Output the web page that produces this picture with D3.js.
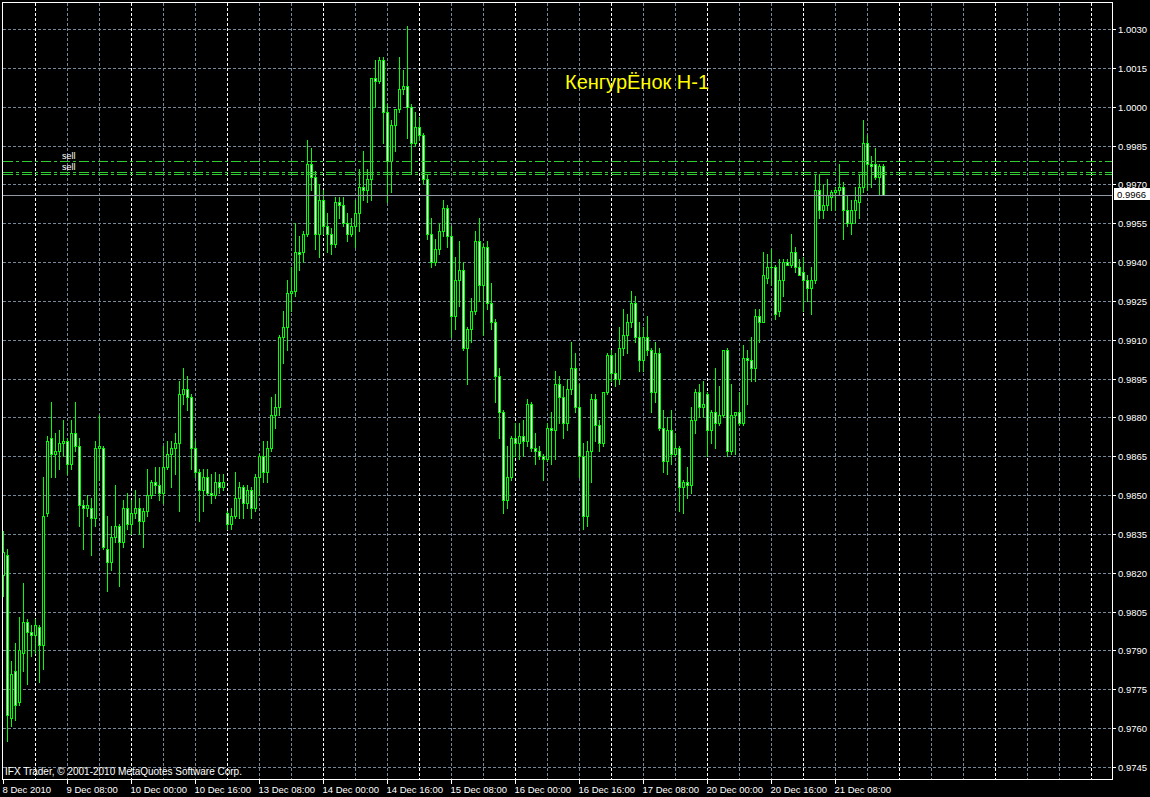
<!DOCTYPE html>
<html><head><meta charset="utf-8">
<script src="https://cdn.jsdelivr.net/npm/d3@7"></script>
<style>html,body{margin:0;padding:0;background:#000;overflow:hidden}</style>
</head><body><svg id="c" width="1150" height="797"></svg>
<script>
const opens=[0.9819,0.9827,0.9764,0.9782,0.9770,0.9789,0.9801,0.9797,0.9796,0.9799,
0.9792,0.9843,0.9872,0.9866,0.9867,0.9870,0.9871,0.9862,0.9874,0.9869,
0.9846,0.9845,0.9845,0.9841,0.9868,0.9868,0.9829,0.9824,0.9834,0.9838,
0.9832,0.9845,0.9839,0.9843,0.9845,0.9840,0.9844,0.9850,0.9855,0.9854,
0.9851,0.9861,0.9866,0.9868,0.9870,0.9889,0.9891,0.9888,0.9868,0.9859,
0.9852,0.9857,0.9851,0.9850,0.9855,0.9853,0.9843,0.9839,0.9842,0.9849,
0.9853,0.9847,0.9852,0.9845,0.9857,0.9865,0.9859,0.9868,0.9881,0.9884,
0.9911,0.9915,0.9928,0.9929,0.9944,0.9944,0.9951,0.9978,0.9973,0.9951,
0.9964,0.9954,0.9951,0.9947,0.9963,0.9962,0.9955,0.9951,0.9954,0.9959,
0.9969,0.9968,0.9972,1.0011,1.0010,1.0018,0.9998,0.9979,0.9993,0.9999,
1.0007,1.0008,1.0000,0.9986,0.9992,0.9989,0.9972,0.9951,0.9940,0.9945,
0.9952,0.9961,0.9950,0.9919,0.9933,0.9937,0.9907,0.9914,0.9921,0.9948,
0.9931,0.9946,0.9924,0.9917,0.9896,0.9882,0.9848,0.9857,0.9872,0.9870,
0.9873,0.9871,0.9885,0.9868,0.9867,0.9865,0.9864,0.9876,0.9875,0.9893,
0.9888,0.9878,0.9891,0.9899,0.9884,0.9865,0.9842,0.9867,0.9887,0.9877,
0.9870,0.9890,0.9904,0.9897,0.9895,0.9907,0.9912,0.9917,0.9924,0.9911,
0.9902,0.9911,0.9906,0.9890,0.9905,0.9876,0.9863,0.9875,0.9866,0.9868,
0.9853,0.9855,0.9854,0.9879,0.9890,0.9884,0.9889,0.9875,0.9882,0.9878,
0.9881,0.9906,0.9867,0.9881,0.9882,0.9878,0.9903,0.9902,0.9899,0.9919,
0.9917,0.9934,0.9938,0.9938,0.9921,0.9933,0.9940,0.9939,0.9944,0.9938,
0.9936,0.9933,0.9930,0.9933,0.9968,0.9960,0.9962,0.9965,0.9967,0.9968,
0.9969,0.9960,0.9955,0.9960,0.9963,0.9969,0.9986,0.9978,0.9978,0.9973,
0.9977];
const highs=[0.9836,0.9829,0.9786,0.9793,0.9803,0.9816,0.9802,0.9800,0.9802,0.9800,
0.9857,0.9873,0.9886,0.9874,0.9875,0.9879,0.9872,0.9879,0.9886,0.9872,
0.9848,0.9850,0.9849,0.9871,0.9881,0.9869,0.9842,0.9838,0.9854,0.9839,
0.9848,0.9851,0.9848,0.9852,0.9849,0.9845,0.9860,0.9856,0.9861,0.9861,
0.9869,0.9871,0.9871,0.9874,0.9894,0.9899,0.9896,0.9889,0.9871,0.9860,
0.9860,0.9860,0.9858,0.9859,0.9858,0.9858,0.9844,0.9845,0.9859,0.9855,
0.9854,0.9854,0.9853,0.9858,0.9866,0.9871,0.9871,0.9888,0.9889,0.9912,
0.9921,0.9933,0.9938,0.9955,0.9950,0.9952,0.9987,0.9984,0.9975,0.9970,
0.9968,0.9959,0.9953,0.9965,0.9965,0.9965,0.9959,0.9957,0.9964,0.9976,
0.9983,0.9976,1.0011,1.0018,1.0019,1.0019,1.0001,0.9995,0.9999,1.0019,
1.0014,1.0031,1.0001,0.9998,0.9996,0.9990,0.9974,0.9957,0.9949,0.9955,
0.9964,0.9962,0.9954,0.9942,0.9948,0.9940,0.9915,0.9926,0.9952,0.9957,
0.9947,0.9948,0.9932,0.9918,0.9899,0.9883,0.9869,0.9873,0.9878,0.9878,
0.9879,0.9887,0.9886,0.9874,0.9869,0.9866,0.9878,0.9882,0.9898,0.9896,
0.9892,0.9895,0.9909,0.9905,0.9893,0.9870,0.9871,0.9889,0.9889,0.9879,
0.9890,0.9905,0.9906,0.9905,0.9915,0.9922,0.9920,0.9929,0.9927,0.9917,
0.9915,0.9919,0.9907,0.9909,0.9907,0.9883,0.9880,0.9883,0.9874,0.9869,
0.9856,0.9861,0.9884,0.9891,0.9893,0.9894,0.9890,0.9883,0.9899,0.9892,
0.9906,0.9907,0.9893,0.9882,0.9890,0.9908,0.9906,0.9911,0.9922,0.9922,
0.9944,0.9943,0.9945,0.9939,0.9941,0.9941,0.9941,0.9951,0.9946,0.9941,
0.9942,0.9935,0.9938,0.9974,0.9974,0.9970,0.9972,0.9968,0.9969,0.9978,
0.9971,0.9966,0.9964,0.9969,0.9974,0.9995,0.9989,0.9981,0.9984,0.9978,
0.9978];
const lows=[0.9811,0.9755,0.9761,0.9763,0.9769,0.9782,0.9777,0.9788,0.9789,0.9778,
0.9783,0.9842,0.9857,0.9857,0.9860,0.9865,0.9858,0.9860,0.9867,0.9838,
0.9829,0.9842,0.9827,0.9838,0.9856,0.9829,0.9813,0.9821,0.9832,0.9815,
0.9830,0.9837,0.9835,0.9841,0.9835,0.9830,0.9842,0.9849,0.9851,0.9848,
0.9847,0.9860,0.9853,0.9858,0.9844,0.9885,0.9883,0.9860,0.9857,0.9840,
0.9844,0.9850,0.9847,0.9849,0.9851,0.9852,0.9837,0.9837,0.9841,0.9841,
0.9841,0.9845,0.9841,0.9844,0.9850,0.9855,0.9855,0.9867,0.9876,0.9881,
0.9901,0.9906,0.9921,0.9927,0.9937,0.9940,0.9950,0.9968,0.9945,0.9942,
0.9951,0.9944,0.9943,0.9946,0.9957,0.9954,0.9948,0.9950,0.9946,0.9952,
0.9964,0.9963,0.9964,1.0000,1.0009,0.9986,0.9963,0.9967,0.9983,0.9998,
1.0005,0.9988,0.9974,0.9985,0.9987,0.9970,0.9949,0.9938,0.9939,0.9943,
0.9950,0.9946,0.9911,0.9914,0.9923,0.9906,0.9893,0.9909,0.9920,0.9925,
0.9912,0.9922,0.9914,0.9886,0.9872,0.9843,0.9845,0.9856,0.9865,0.9864,
0.9865,0.9869,0.9867,0.9862,0.9864,0.9856,0.9863,0.9862,0.9864,0.9878,
0.9872,0.9875,0.9889,0.9882,0.9857,0.9837,0.9838,0.9855,0.9871,0.9867,
0.9869,0.9889,0.9894,0.9892,0.9893,0.9904,0.9905,0.9915,0.9909,0.9898,
0.9898,0.9904,0.9882,0.9886,0.9875,0.9859,0.9858,0.9862,0.9865,0.9844,
0.9843,0.9849,0.9851,0.9874,0.9880,0.9880,0.9865,0.9870,0.9868,0.9877,
0.9880,0.9865,0.9866,0.9866,0.9877,0.9877,0.9885,0.9894,0.9894,0.9909,
0.9917,0.9932,0.9931,0.9918,0.9919,0.9927,0.9939,0.9938,0.9936,0.9935,
0.9921,0.9925,0.9920,0.9932,0.9957,0.9957,0.9960,0.9960,0.9960,0.9966,
0.9949,0.9954,0.9951,0.9955,0.9957,0.9967,0.9968,0.9969,0.9972,0.9966,
0.9966];
const closes=[0.9828,0.9765,0.9781,0.9769,0.9790,0.9801,0.9797,0.9796,0.9800,0.9792,
0.9842,0.9871,0.9866,0.9867,0.9870,0.9871,0.9862,0.9874,0.9869,0.9846,
0.9845,0.9846,0.9841,0.9868,0.9869,0.9830,0.9824,0.9834,0.9838,0.9832,
0.9845,0.9839,0.9843,0.9845,0.9840,0.9844,0.9850,0.9855,0.9854,0.9851,
0.9861,0.9866,0.9868,0.9870,0.9889,0.9891,0.9888,0.9868,0.9859,0.9852,
0.9857,0.9851,0.9850,0.9855,0.9853,0.9855,0.9839,0.9842,0.9849,0.9853,
0.9847,0.9852,0.9845,0.9857,0.9865,0.9859,0.9868,0.9881,0.9884,0.9911,
0.9915,0.9928,0.9929,0.9944,0.9943,0.9951,0.9978,0.9973,0.9951,0.9964,
0.9954,0.9951,0.9947,0.9963,0.9962,0.9955,0.9951,0.9954,0.9959,0.9969,
0.9968,0.9972,1.0011,1.0010,1.0018,0.9998,0.9979,0.9993,0.9999,1.0007,
1.0008,1.0000,0.9986,0.9992,0.9989,0.9972,0.9951,0.9940,0.9945,0.9952,
0.9961,0.9950,0.9919,0.9933,0.9937,0.9907,0.9914,0.9921,0.9948,0.9931,
0.9946,0.9924,0.9917,0.9896,0.9882,0.9848,0.9857,0.9872,0.9870,0.9873,
0.9871,0.9885,0.9868,0.9867,0.9865,0.9864,0.9876,0.9875,0.9893,0.9888,
0.9878,0.9891,0.9899,0.9884,0.9865,0.9842,0.9867,0.9887,0.9877,0.9870,
0.9890,0.9904,0.9897,0.9895,0.9907,0.9912,0.9917,0.9924,0.9911,0.9902,
0.9911,0.9906,0.9890,0.9905,0.9876,0.9863,0.9875,0.9866,0.9868,0.9853,
0.9855,0.9854,0.9879,0.9890,0.9884,0.9885,0.9875,0.9882,0.9878,0.9881,
0.9906,0.9867,0.9881,0.9882,0.9878,0.9903,0.9902,0.9899,0.9919,0.9917,
0.9935,0.9938,0.9938,0.9920,0.9933,0.9940,0.9939,0.9944,0.9938,0.9935,
0.9933,0.9930,0.9933,0.9968,0.9960,0.9962,0.9966,0.9967,0.9968,0.9969,
0.9960,0.9955,0.9960,0.9964,0.9969,0.9986,0.9978,0.9977,0.9973,0.9977,
0.9966];

const timeLabels=["8 Dec 2010","9 Dec 08:00","10 Dec 00:00","10 Dec 16:00","13 Dec 08:00","14 Dec 00:00","14 Dec 16:00","15 Dec 08:00","16 Dec 00:00","16 Dec 16:00","17 Dec 08:00","20 Dec 00:00","20 Dec 16:00","21 Dec 08:00"];
const timeLabelBars=[0,16,32,48,64,80,96,112,128,144,160,176,192,208];
const priceTicks=[0.9745,0.9760,0.9775,0.9790,0.9805,0.9820,0.9835,0.9850,0.9865,0.9880,0.9895,0.9910,0.9925,0.9940,0.9955,0.9970,0.9985,1.0000,1.0015,1.0030];
const currentPrice=0.9966;
const sellLevels=[0.9979,0.99747,0.99739];
const sellLabels=["sell","sell"];
const sellLabelLevels=[0.9979,0.99747];
const title="КенгурЁнок Н-1";
const copyright="IFX Trader, © 2001-2010 MetaQuotes Software Corp.";

const W=1150,H=797;
const L=2,T=2,R=1112,B=779;
const svg=d3.select('#c');
svg.append('rect').attr('width',W).attr('height',H).attr('fill','#000');

const x=d3.scaleLinear().domain([0,220]).range([3,883]);
const y=d3.scaleLinear().domain([0.9745,1.0030]).range([767,29]);
const px=v=>Math.round(x(v));
const py=v=>Math.round(y(v));

const grid=svg.append('g');
priceTicks.forEach(p=>{
  const yy=py(p)+0.5;
  grid.append('line').attr('x1',L+1).attr('x2',R).attr('y1',yy).attr('y2',yy)
    .attr('stroke','#778899').attr('stroke-width',1).attr('stroke-dasharray','3,2');
});
for(let b=8; x(b)<R; b+=8){
  const xx=px(b)+0.5;
  const sep=((b-8)%24===0);
  grid.append('line').attr('x1',xx).attr('x2',xx).attr('y1',T+1).attr('y2',B)
    .attr('stroke',sep?'#ffffff':'#778899').attr('stroke-width',1).attr('stroke-dasharray','3,2');
}

const cg=svg.append('g');
opens.forEach((o,i)=>{
  const c=closes[i], h=highs[i], l=lows[i];
  const cx=px(i);
  const yo=py(o), yc=py(c), yh=py(h), yl=py(l);
  cg.append('line').attr('x1',cx+0.5).attr('x2',cx+0.5).attr('y1',yh).attr('y2',yl+1)
    .attr('stroke','#00ff00').attr('stroke-width',1);
  const top=Math.min(yo,yc), bot=Math.max(yo,yc);
  if(top===bot){
    cg.append('line').attr('x1',cx-1).attr('x2',cx+2).attr('y1',top+0.5).attr('y2',top+0.5)
      .attr('stroke','#00ff00').attr('stroke-width',1);
  } else {
    cg.append('rect').attr('x',cx-0.5).attr('y',top+0.5).attr('width',2).attr('height',bot-top)
      .attr('fill', c<o ? '#ffffff' : '#000000').attr('stroke','#00ff00').attr('stroke-width',1);
  }
});

sellLevels.forEach(p=>{
  const yy=py(p)+0.5;
  svg.append('line').attr('x1',L+1).attr('x2',R).attr('y1',yy).attr('y2',yy)
    .attr('stroke','#32cd32').attr('stroke-width',1).attr('stroke-dasharray','10,3,3,3');
});
const font='Liberation Sans, Arial, sans-serif';
sellLabels.forEach((t,k)=>{
  svg.append('text').attr('x',62).attr('y',py(sellLabelLevels[k])-2).text(t)
    .attr('fill','#ffffff').attr('font-family',font).attr('font-size','9px');
});

svg.append('line').attr('x1',L+1).attr('x2',R).attr('y1',py(currentPrice)+0.5).attr('y2',py(currentPrice)+0.5)
  .attr('stroke','#9099a4').attr('stroke-width',1);

svg.append('rect').attr('x',L+0.5).attr('y',T+0.5).attr('width',R-L).attr('height',B-T)
  .attr('fill','none').attr('stroke','#ffffff').attr('stroke-width',1);

priceTicks.forEach(p=>{
  const yy=py(p);
  svg.append('line').attr('x1',R).attr('x2',R+4).attr('y1',yy+0.5).attr('y2',yy+0.5).attr('stroke','#fff');
  svg.append('text').attr('x',R+6).attr('y',yy+4).text(p.toFixed(4))
    .attr('fill','#fff').attr('font-family',font).attr('font-size','9.5px');
});
const cy=py(currentPrice);
svg.append('rect').attr('x',R+2).attr('y',cy-7).attr('width',36).attr('height',12).attr('fill','#fff');
svg.append('text').attr('x',R+5).attr('y',cy+3).text(currentPrice.toFixed(4))
  .attr('fill','#000').attr('font-family',font).attr('font-size','9.5px');

timeLabels.forEach((t,k)=>{
  const xx=px(timeLabelBars[k]);
  svg.append('line').attr('x1',xx+0.5).attr('x2',xx+0.5).attr('y1',B).attr('y2',B+5).attr('stroke','#fff');
  svg.append('text').attr('x',xx-0.5).attr('y',793).text(t)
    .attr('fill','#fff').attr('font-family',font).attr('font-size','9.5px');
});

svg.append('text').attr('x',5).attr('y',775).text(copyright)
  .attr('fill','#fff').attr('font-family',font).attr('font-size','10px');

svg.append('text').attr('x',565).attr('y',89).text(title)
  .attr('fill','#ffff00').attr('font-family',font).attr('font-size','20px');
</script>
</body></html>
